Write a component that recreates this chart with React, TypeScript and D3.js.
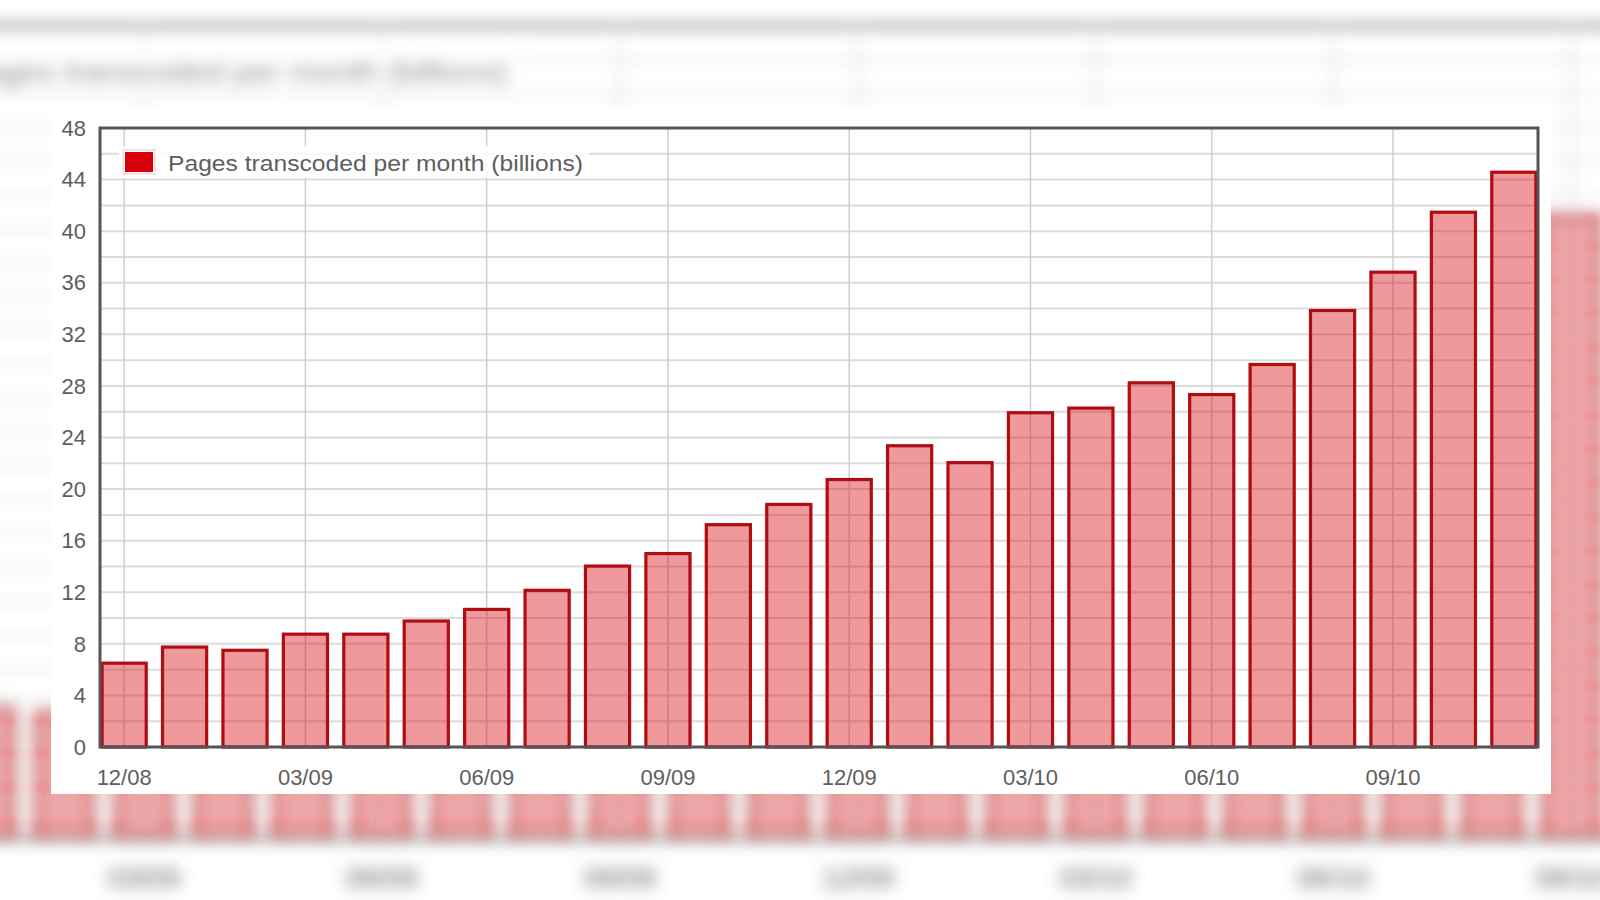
import * as d3 from 'd3';

// Monthly bars, 12/08 .. 11/10
const MONTHS = [
  '12/08', '01/09', '02/09', '03/09', '04/09', '05/09', '06/09', '07/09',
  '08/09', '09/09', '10/09', '11/09', '12/09', '01/10', '02/10', '03/10',
  '04/10', '05/10', '06/10', '07/10', '08/10', '09/10', '10/10', '11/10',
];
const PAGES = [
  6.5, 7.75, 7.5, 8.75, 8.75, 9.77, 10.67, 12.15,
  14.03, 15.0, 17.24, 18.81, 20.74, 23.36, 22.05, 25.92,
  26.28, 28.24, 27.33, 29.66, 33.85, 36.82, 41.47, 44.57,
];
const X_TICK_LABELS = ['12/08', '03/09', '06/09', '09/09', '12/09', '03/10', '06/10', '09/10'];
const Y_TICKS = [0, 4, 8, 12, 16, 20, 24, 28, 32, 36, 40, 44, 48];
const SERIES_LABEL = 'Pages transcoded per month (billions)';

const FONT = '"Liberation Sans", Arial, sans-serif';
const TEXT_COLOR = '#5e5e5e';
const SERIES_COLOR = '#d8000a';

function ChartBody({ x, y }: { x: d3.ScaleLinear<number, number>; y: d3.ScaleLinear<number, number> }) {
  const [x0, x1] = x.range();
  const [yBottom, yTop] = y.range();
  const gridY = d3.range(2, 48, 2);
  const tickIdx = X_TICK_LABELS.map(l => MONTHS.indexOf(l));
  const half = 0.39;

  return (
    <g fontFamily={FONT}>
      {/* grid */}
      {gridY.map(v => (
        <line key={'h' + v} x1={x0} x2={x1} y1={y(v)} y2={y(v)} stroke="#dcdcdc" strokeWidth={2} />
      ))}
      {tickIdx.map(i => (
        <line key={'v' + i} x1={x(i)} x2={x(i)} y1={yTop} y2={yBottom} stroke="#cfcfcf" strokeWidth={1.5} />
      ))}

      {/* bars */}
      {PAGES.map((v, i) => {
        const left = x(i - half) + 1.5;
        const right = x(i + half) - 1.5;
        return (
          <rect
            key={MONTHS[i]}
            x={left}
            y={y(v)}
            width={right - left}
            height={yBottom - y(v)}
            fill={SERIES_COLOR}
            fillOpacity={0.4}
            stroke="#b00c12"
            strokeWidth={3.2}
          />
        );
      })}

      {/* plot border */}
      <rect x={x0} y={yTop} width={x1 - x0} height={yBottom - yTop} fill="none" stroke="#555" strokeWidth={3} />

      {/* y tick labels */}
      {Y_TICKS.map(v => (
        <text key={'yt' + v} x={x0 - 14} y={y(v)} dy="0.35em" textAnchor="end" fontSize={22} fill={TEXT_COLOR}>
          {v}
        </text>
      ))}

      {/* x tick labels */}
      {X_TICK_LABELS.map((l, k) => (
        <text key={'xt' + l} x={x(tickIdx[k])} y={yBottom + 38} textAnchor="middle" fontSize={22} fill={TEXT_COLOR}>
          {l}
        </text>
      ))}

      {/* legend */}
      <rect x={x0 + 19} y={yTop + 18} width={470} height={32} fill="#fff" fillOpacity={0.85} />
      <rect x={x0 + 23} y={yTop + 22} width={32} height={24} fill="#fff" stroke="#f2c4c4" strokeWidth={1} />
      <rect x={x0 + 25} y={yTop + 24} width={28} height={20} fill={SERIES_COLOR} />
      <text
        x={x0 + 68}
        y={yTop + 35}
        dy="0.35em"
        fontSize={22}
        fill={TEXT_COLOR}
        textLength={415}
        lengthAdjust="spacingAndGlyphs"
      >
        {SERIES_LABEL}
      </text>
    </g>
  );
}

export default function App() {
  const x = d3.scaleLinear().domain([-0.4, 23.4]).range([100, 1538]);
  const y = d3.scaleLinear().domain([0, 48]).range([747, 128]);

  return (
    <div style={{ position: 'absolute', left: 0, top: 0, width: 1600, height: 900, background: '#fff', overflow: 'hidden' }}>
      <svg width={1600} height={900}>
        <defs>
          <filter id="bg-blur" filterUnits="userSpaceOnUse" x={-200} y={-200} width={2000} height={1300}>
            <feGaussianBlur stdDeviation={5.5} />
          </filter>
        </defs>
        <rect width={1600} height={900} fill="#fff" />

        {/* enlarged, blurred copy behind */}
        <g transform="translate(-257,-142) scale(1.3125)" filter="url(#bg-blur)" aria-hidden="true">
          <ChartBody x={x} y={y} />
        </g>

        {/* card */}
        <rect x={51} y={107} width={1500} height={687} fill="#fff" />
        <ChartBody x={x} y={y} />
      </svg>
    </div>
  );
}
